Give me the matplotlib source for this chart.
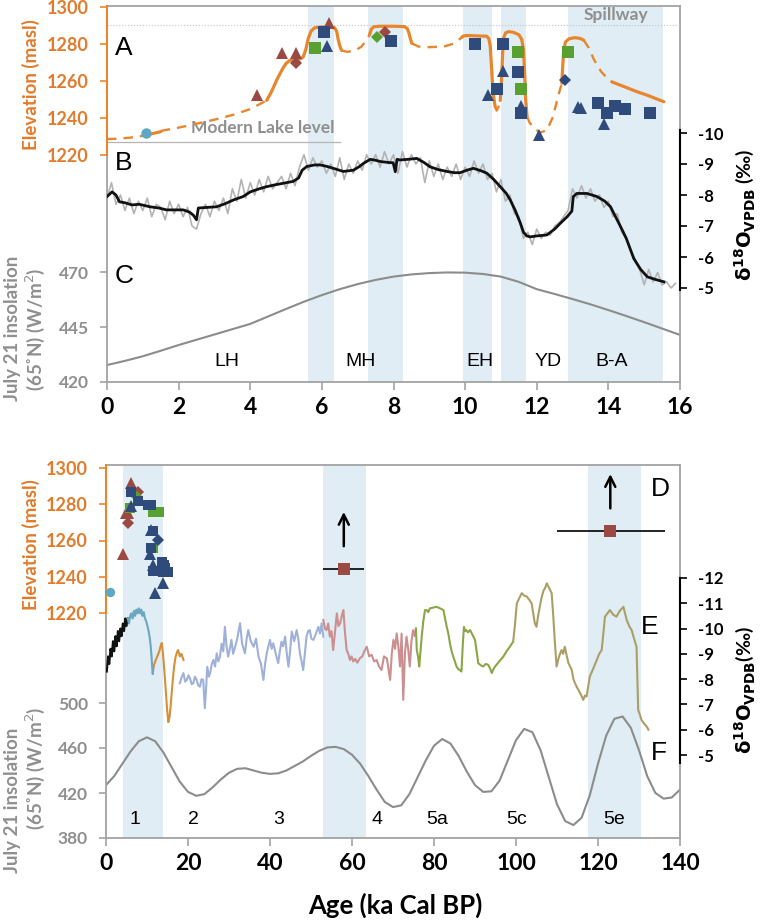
import numpy as np
import matplotlib
matplotlib.use("Agg")
import matplotlib.pyplot as plt

plt.rcParams['font.family'] = ['Lato', 'DejaVu Sans']
plt.rcParams['axes.unicode_minus'] = False
plt.rcParams['mathtext.fontset'] = 'dejavusans'

# ---------------- DATA ----------------
# Panel A / D : lake level markers (age ka, elevation masl)
brown_tri_age = [4.18, 4.88, 5.27, 6.20]
brown_tri_elev = [1252.4, 1275.3, 1275.3, 1291.5]
brown_dia_age = [5.27, 7.77]
brown_dia_elev = [1269.5, 1286.7]
green_sq_age = [5.81, 11.47, 11.56, 12.88]
green_sq_elev = [1277.7, 1275.9, 1255.7, 1275.9]
green_dia_age = [7.53]
green_dia_elev = [1284.0]
blue_sq_age = [6.07, 7.92, 10.28, 11.07, 11.47, 10.88, 11.56, 13.72, 13.95, 14.19, 14.47, 15.15]
blue_sq_elev = [1286.7, 1281.8, 1279.8, 1279.8, 1265.1, 1255.7, 1242.9, 1247.9, 1242.5, 1246.5, 1244.7, 1242.5]
blue_tri_age = [6.13, 11.07, 10.65, 11.56, 12.07, 13.16, 13.24, 13.88]
blue_tri_elev = [1278.9, 1265.6, 1252.4, 1246.5, 1230.8, 1246.1, 1245.5, 1236.8]
blue_dia_age = [12.79]
blue_dia_elev = [1260.5]
circle_age = [1.09]
circle_elev = [1231.7]

# lake level reconstruction: solid (well constrained) and dashed (inferred) pieces
lake_solid = [
    ([1.1, 1.3, 1.5], [1230.8, 1231.7, 1232.6]),
    ([4.46, 4.6, 4.75, 4.9, 5.0, 5.11, 5.25, 5.4, 5.48, 5.55, 5.62, 5.7, 5.8, 6.0, 6.2, 6.35, 6.41, 6.45, 6.5, 6.55],
     [1249.5, 1254.5, 1261, 1266.5, 1269.5, 1271.2, 1271.6, 1272, 1273, 1277, 1283, 1287, 1288.8, 1289.2, 1289.2, 1288.8, 1287, 1283, 1279, 1276.5]),
    ([7.33, 7.38, 7.45, 7.6, 8.0, 8.3, 8.38, 8.43, 8.47, 8.51],
     [1285, 1288, 1289.3, 1289.6, 1289.6, 1289.4, 1288.5, 1286, 1283, 1280.4]),
    ([9.9, 9.95, 10.05, 10.3, 10.6, 10.66, 10.7, 10.73, 10.76, 10.8, 10.84],
     [1283.5, 1284.3, 1284.6, 1284.4, 1284.2, 1283, 1279, 1270, 1260, 1251, 1246]),
    ([10.98, 11.02, 11.05, 11.08, 11.13, 11.22, 11.35, 11.5, 11.58, 11.63, 11.66, 11.69, 11.73],
     [1249.5, 1262, 1276, 1283.5, 1286, 1286.7, 1286.3, 1285, 1282.5, 1277, 1265, 1250, 1240.7]),
    ([12.7, 12.72, 12.75, 12.8, 12.9, 13.05, 13.2, 13.31],
     [1258.8, 1266, 1276, 1281, 1282.8, 1283.4, 1283.1, 1282.1]),
    ([14.1, 14.5, 14.8, 15.1, 15.55], [1259.5, 1256.5, 1254.2, 1252.2, 1248.8]),
]
lake_dashed = [
    ([0.0, 0.3, 0.6, 0.9, 1.1], [1228.6, 1228.8, 1229.3, 1230.0, 1230.8]),
    ([1.5, 2.0, 2.5, 3.0, 3.5, 4.0, 4.46], [1233.0, 1234.8, 1236.9, 1239.1, 1241.6, 1244.8, 1249.5]),
    ([6.55, 6.7, 6.9, 7.1, 7.25, 7.33], [1276.5, 1275.8, 1276.2, 1278.5, 1282.0, 1285.0]),
    ([8.51, 8.7, 9.0, 9.4, 9.7, 9.9], [1280.4, 1278.6, 1278.3, 1278.6, 1280.3, 1283.5]),
    ([10.84, 10.88, 10.93, 10.98], [1246.0, 1244.0, 1246.0, 1249.5]),
    ([11.73, 11.8, 11.95, 12.1, 12.28, 12.45, 12.6, 12.7], [1240.7, 1237.5, 1234.0, 1232.2, 1233.3, 1240.5, 1252.0, 1258.8]),
    ([13.31, 13.45, 13.6, 13.8, 14.0, 14.1], [1282.1, 1278.0, 1271.5, 1265.0, 1261.0, 1259.5]),
]
spillway_elev = 1290.3
modern_lake_elev = 1227.0

# Panel B : d18O raw (gray, 0.125 ka spacing) and smoothed (black)
b_raw_d18o = [-7.9, -8.4, -7.7, -8.0, -7.5, -7.9, -7.4, -7.8, -7.5, -7.9, -7.3, -7.7, -7.6, -7.2, -7.8, -7.4,
              -7.7, -7.3, -7.6, -7.0, -6.9, -7.4, -7.7, -7.3, -7.8, -7.5, -7.9, -7.4, -8.2, -7.8, -8.5, -7.9,
              -8.4, -8.0, -8.5, -8.1, -8.6, -8.2, -8.4, -8.6, -8.2, -8.7, -8.3, -8.9, -9.3, -8.8, -9.2, -8.9,
              -9.1, -8.7, -9.0, -8.6, -9.2, -8.5, -9.0, -8.7, -9.1, -8.8, -9.3, -9.0, -9.3, -8.9, -9.4, -9.0,
              -9.3, -8.7, -9.4, -8.9, -9.3, -9.0, -9.2, -8.4, -9.1, -8.6, -9.0, -8.5, -8.9, -8.6, -9.0, -8.5,
              -8.9, -8.6, -9.1, -8.7, -9.0, -8.5, -8.7, -8.1, -8.5, -7.8, -8.0, -7.4, -7.3, -6.6, -6.8, -6.4,
              -6.9, -6.6, -6.8, -6.7, -7.0, -7.1, -7.3, -7.5, -8.2, -7.9, -8.3, -7.9, -8.2, -7.8, -8.0, -7.6,
              -7.8, -7.3, -7.4, -6.8, -6.6, -6.2, -5.9, -5.6, -5.1, -5.6, -5.2, -5.5, -5.1, -5.2, -5.0, -5.15]
b_raw_step = 0.125
b_smooth = [(0.0, -7.95), (0.14, -8.1), (0.25, -8.0), (0.35, -7.78), (0.5, -7.75), (0.7, -7.68), (0.9, -7.7),
            (1.2, -7.62), (1.45, -7.58), (1.66, -7.52), (1.9, -7.52), (2.13, -7.52), (2.3, -7.45), (2.41, -7.35),
            (2.5, -7.2), (2.55, -7.58), (2.8, -7.6), (3.06, -7.62), (3.3, -7.72), (3.53, -7.84), (3.8, -7.95),
            (4.0, -8.1), (4.25, -8.2), (4.46, -8.27), (4.7, -8.33), (4.93, -8.38), (5.2, -8.44), (5.35, -8.55),
            (5.45, -8.8), (5.58, -8.92), (5.8, -8.97), (5.95, -8.97), (6.15, -8.92), (6.32, -8.86), (6.6, -8.76),
            (6.88, -8.8), (7.05, -8.92), (7.16, -9.02), (7.35, -9.15), (7.5, -9.12), (7.63, -9.08), (7.85, -9.05),
            (7.99, -9.04), (8.05, -8.75), (8.1, -9.15), (8.18, -9.13), (8.4, -9.15), (8.65, -9.18), (8.85, -9.05),
            (9.02, -8.91), (9.25, -8.82), (9.49, -8.76), (9.7, -8.72), (9.86, -8.72), (10.05, -8.8), (10.23, -8.86),
            (10.45, -8.78), (10.61, -8.7), (10.8, -8.5), (10.98, -8.27), (11.15, -8.05), (11.26, -7.84),
            (11.4, -7.5), (11.54, -7.1), (11.63, -6.8), (11.72, -6.68), (11.82, -6.65), (12.0, -6.68),
            (12.28, -6.71), (12.5, -6.9), (12.66, -7.09), (12.85, -7.3), (12.98, -7.48), (13.02, -7.95),
            (13.12, -8.05), (13.4, -8.05), (13.68, -7.95), (13.9, -7.8), (14.06, -7.62), (14.2, -7.3),
            (14.34, -6.98), (14.5, -6.6), (14.71, -5.95), (14.9, -5.6), (15.09, -5.36), (15.3, -5.28), (15.55, -5.2)]

# Panel C : July 21 insolation 65N, 0-16 ka (0.5 ka step)
c_ins_age = [0, 0.5, 1, 1.5, 2, 2.5, 3, 3.5, 4, 4.5, 5, 5.5, 6, 6.5, 7, 7.5, 8, 8.5, 9, 9.5, 10,
             10.5, 11, 11.5, 12, 12.5, 13, 13.5, 14, 14.5, 15, 15.5, 16]
c_ins = [427.7, 429.6, 431.7, 434.2, 436.8, 439.2, 441.6, 444.0, 446.4, 449.8, 453.2, 456.5, 459.5, 462.2,
         464.5, 466.4, 467.9, 468.9, 469.5, 469.8, 469.7, 469.1, 467.9, 465.5, 462.2, 460.0, 457.7, 455.3,
         452.7, 450.0, 447.2, 444.3, 441.4]

# Panel E : speleothem d18O records (age ka, d18O)
e_black = [(0.2, -8.3), (0.5, -8.9), (0.8, -8.6), (1.1, -9.2), (1.4, -8.9), (1.7, -9.5), (2.0, -9.1), (2.3, -9.7),
           (2.6, -9.3), (2.9, -9.9), (3.2, -9.5), (3.5, -10.0), (3.8, -9.7), (4.1, -10.2), (4.4, -9.9),
           (4.7, -10.4), (5.0, -10.1), (5.3, -10.4)]
e_teal = [(5.3, -10.4), (5.6, -10.2), (5.9, -10.5), (6.2, -10.6), (6.5, -10.4), (6.8, -10.7), (7.1, -10.5),
          (7.4, -10.75), (7.7, -10.6), (8.0, -10.8), (8.3, -10.6), (8.6, -10.75), (8.9, -10.5), (9.2, -10.65),
          (9.5, -10.4), (9.8, -10.3), (10.1, -10.1), (10.4, -9.9), (10.7, -9.6), (10.9, -9.3), (11.1, -8.9),
          (11.3, -8.4), (11.4, -8.2), (11.6, -8.5)]
e_orange = [(11.6, -8.5), (12.0, -8.7), (12.5, -8.9), (13.0, -9.1), (13.3, -9.3), (13.6, -9.43), (13.9, -9.0),
            (14.2, -8.4), (14.6, -7.5), (14.9, -6.8), (15.2, -6.3), (15.5, -6.5), (15.8, -7.0), (16.2, -7.8),
            (16.6, -8.5), (17.0, -8.9), (17.4, -9.1), (17.6, -9.15), (18.0, -8.9), (18.4, -9.0), (18.9, -8.76)]
e_lavender = [(18.0, -7.84), (18.5, -8.1), (18.9, -8.24), (19.3, -7.9), (19.7, -7.97), (20.1, -8.15), (20.5, -8.03),
              (20.9, -7.8), (21.3, -7.84), (21.7, -8.1), (22.1, -7.97), (22.5, -7.75), (22.9, -7.7), (23.3, -8.0),
              (23.7, -7.97), (24.1, -6.85), (24.4, -7.6), (24.7, -8.49), (25.1, -8.1), (25.4, -8.24), (25.8, -8.6),
              (26.2, -8.76), (26.6, -8.5), (27.0, -9.02), (27.4, -8.7), (27.8, -8.89), (28.2, -9.4), (28.6, -9.1),
              (29.0, -10.07), (29.4, -9.3), (29.8, -8.89), (30.2, -9.2), (30.6, -9.55), (31.0, -9.0), (31.5, -9.28),
              (32.0, -9.6), (32.7, -10.21), (33.2, -9.4), (33.9, -9.02), (34.3, -9.6), (34.7, -9.94), (35.3, -9.5),
              (36.0, -9.28), (36.6, -9.6), (37.2, -8.89), (37.8, -8.6), (38.4, -7.97), (38.8, -8.6), (39.2, -9.02),
              (39.6, -9.3), (40.0, -9.55), (40.4, -9.2), (40.8, -9.42), (41.4, -9.0), (42.0, -8.63), (42.4, -9.1),
              (42.8, -9.48), (43.2, -9.3), (43.7, -9.68), (44.1, -9.0), (44.5, -8.49), (44.9, -9.1), (45.3, -9.88),
              (45.9, -9.5), (46.5, -9.94), (46.9, -9.6), (47.3, -9.02), (47.7, -8.7), (48.1, -8.36), (48.5, -9.0),
              (48.9, -9.68), (49.3, -9.9), (49.7, -9.94), (50.1, -9.6), (50.6, -9.55), (51.2, -9.8), (51.8, -10.07),
              (52.2, -9.8), (52.6, -10.21), (53.0, -9.68)]
e_pink = [(53.0, -10.34), (53.4, -10.0), (53.8, -9.94), (54.2, -10.2), (54.6, -9.68), (55.0, -9.9), (55.4, -9.15),
          (55.9, -9.94), (56.3, -10.6), (56.7, -10.1), (57.1, -10.21), (57.5, -10.5), (57.9, -10.73), (58.3, -9.81),
          (58.7, -9.15), (59.1, -9.0), (59.5, -8.76), (59.9, -8.9), (60.3, -8.7), (60.8, -8.8), (61.3, -8.65),
          (61.9, -8.82), (62.5, -8.9), (63.0, -9.1), (63.6, -9.28), (64.2, -8.9), (64.8, -8.96), (65.4, -8.7),
          (66.0, -8.76), (66.6, -8.5), (67.2, -8.36), (67.8, -8.9), (68.5, -8.82), (68.9, -8.4), (69.3, -7.97),
          (69.7, -9.0), (70.1, -9.55), (70.5, -9.2), (70.9, -9.81), (71.3, -9.3), (71.7, -8.5), (72.1, -9.8),
          (72.5, -7.18), (72.9, -9.0), (73.3, -9.68), (73.7, -9.2), (74.1, -8.5), (74.5, -9.5), (74.9, -9.94),
          (75.3, -9.7), (75.6, -10.0)]
e_green = [(75.6, -10.0), (75.8, -9.15), (76.1, -8.9), (76.4, -8.5), (77.0, -9.68), (77.4, -10.3), (77.8, -10.73),
           (78.2, -10.73), (78.6, -10.65), (79.0, -10.8), (79.8, -10.83), (80.6, -10.86), (81.5, -10.8),
           (82.3, -10.73), (82.7, -10.4), (83.1, -10.07), (83.5, -9.8), (83.9, -9.41), (84.3, -9.1), (84.7, -8.89),
           (85.1, -8.7), (85.5, -8.5), (85.9, -8.4), (86.3, -8.36), (86.7, -8.3), (87.0, -9.3), (87.3, -10.07),
           (87.6, -9.9), (87.9, -9.94), (88.3, -9.85), (88.8, -9.94), (89.4, -9.75), (90.0, -9.55), (90.4, -9.1),
           (90.8, -8.63), (91.4, -8.55), (92.0, -8.5), (92.6, -8.6), (93.2, -8.57), (93.6, -8.45), (94.1, -8.24),
           (94.5, -8.4), (94.9, -8.5), (95.9, -8.7), (96.9, -8.89), (97.7, -9.1), (98.5, -9.28), (99.3, -9.48)]
e_khaki = [(99.3, -9.48), (99.7, -10.07), (100.2, -11.0), (100.8, -11.2), (101.4, -11.4), (102.0, -11.3),
           (102.6, -11.27), (103.2, -11.15), (103.8, -11.0), (104.2, -10.6), (104.6, -10.2), (105.0, -10.07),
           (105.4, -10.5), (105.8, -10.86), (106.2, -11.2), (106.7, -11.5), (107.1, -11.6), (107.5, -11.79),
           (108.1, -11.6), (108.7, -11.4), (109.1, -10.47), (109.5, -9.4), (109.9, -8.5), (110.5, -8.9),
           (111.1, -9.15), (111.5, -9.0), (111.9, -9.28), (112.4, -8.9), (112.8, -8.63), (113.2, -8.5),
           (113.6, -8.36), (114.0, -8.0), (114.4, -7.84), (114.8, -7.7), (115.2, -7.58), (115.8, -7.4),
           (116.4, -7.18), (116.8, -7.35), (117.2, -7.31), (117.6, -7.7), (118.0, -8.1), (118.8, -8.4),
           (119.7, -8.76), (120.3, -9.0), (120.9, -9.15), (121.3, -9.8), (121.7, -10.47), (122.3, -10.6),
           (122.9, -10.73), (123.7, -10.55), (124.5, -10.47), (125.3, -10.7), (126.2, -10.86), (126.6, -10.6),
           (127.0, -10.34), (127.6, -10.1), (128.2, -9.94), (128.8, -9.6), (129.4, -9.28), (129.6, -8.0),
           (129.8, -6.78), (130.2, -6.6), (130.6, -6.39), (131.2, -6.25), (131.9, -6.12), (132.3, -6.0)]

# Panel D : older highstands (age, elevation, age error bar min/max)
old_age = [58.0, 123.0]
old_elev = [1244.3, 1265.2]
old_err_lo = [53.0, 110.0]
old_err_hi = [63.0, 136.3]

# Panel F : July 21 insolation 65N, 0-140 ka (2 ka step)
f_ins_age = list(range(0, 141, 2))
f_ins = [427, 435, 446, 457, 466, 469.5, 466, 456, 443, 430, 421, 417.5, 419, 425, 432, 438, 441.5, 442,
         440, 438, 437, 437.5, 440, 444, 448, 453, 457.5, 460.5, 461, 459, 454, 446, 435, 423, 412, 407.5,
         409, 419, 434, 449, 462, 468, 464, 453, 439, 427, 421, 421.5, 431, 449, 467, 477, 474, 458, 434,
         410, 395, 391.5, 398, 418, 446, 471, 486, 488, 478, 458, 435, 420, 415, 416, 423]

bands_top = [(5.6, 6.35), (7.3, 8.27), (9.95, 10.75), (11.0, 11.7), (12.87, 15.53)]
bands_bot = [(4.15, 13.9), (53.0, 63.4), (117.6, 130.5)]
periods_top = [("LH", 3.35), ("MH", 7.07), ("EH", 10.4), ("YD", 12.33), ("B-A", 14.1)]
periods_bot = [("1", 7), ("2", 21.3), ("3", 42), ("4", 66), ("5a", 80.7), ("5c", 100.2), ("5e", 124)]

# ---------------- STYLE ----------------
W, H = 762, 924
ORANGE = '#e8862d'
ORANGE_TXT = '#e27b2b'
GRAY = '#a3a3a3'
GRAY_TXT = '#8f8f8f'
BAND = '#e0edf5'
BROWN = '#9b4a43'
GREEN = '#58a030'
BLUE = '#2f4b7c'
LBLUE = '#5fa6c4'
INS_COL = '#8c8c8c'

fig = plt.figure(figsize=(W / 100, H / 100), dpi=100)


def lin(v1, p1, v2, p2):
    return lambda p: v1 + (p - p1) * (v2 - v1) / (p2 - p1)


def pix_of(vmap, v, y0, y1):
    a = vmap(y0)
    b = vmap(y1)
    return y0 + (v - a) * (y1 - y0) / (b - a)


def panel(x0, y0, x1, y1, xmax, xticks, emap, imap, dmap, iticks, dticks, dbounds):
    rect = [x0 / W, 1 - y1 / H, (x1 - x0) / W, (y1 - y0) / H]
    ax = fig.add_axes(rect, zorder=1)
    axd = fig.add_axes(rect, zorder=2, facecolor='none')
    axe = fig.add_axes(rect, zorder=3, facecolor='none')
    for a in (ax, axd, axe):
        a.set_xlim(0, xmax)
    ax.set_ylim(imap(y1), imap(y0))
    axd.set_ylim(dmap(y1), dmap(y0))
    axe.set_ylim(emap(y1), emap(y0))
    for s in ax.spines.values():
        s.set_color(GRAY)
        s.set_linewidth(1.3)
    ax.spines['left'].set_bounds(imap(y1), imap(pix_of(emap, 1220, y0, y1)))
    ax.set_xticks(xticks, [str(t) for t in xticks], fontweight='bold')
    ax.tick_params(axis='x', direction='out', length=6, width=1.2, color=GRAY, labelsize=16.5, pad=5,
                   labelcolor='black')
    ax.set_yticks(iticks, [str(t) for t in iticks], fontweight='bold')
    ax.tick_params(axis='y', direction='out', length=5, width=1.2, color=GRAY, labelsize=12.5,
                   labelcolor=GRAY_TXT, pad=8)
    for k, s in axd.spines.items():
        s.set_visible(k == 'right')
    axd.spines['right'].set_color('black')
    axd.spines['right'].set_linewidth(1.5)
    axd.spines['right'].set_bounds(*dbounds)
    axd.yaxis.set_ticks_position('right')
    axd.set_yticks(dticks, [str(t) for t in dticks], fontweight='bold')
    axd.tick_params(axis='y', direction='out', length=5, width=1.2, color='black', labelsize=12, pad=8)
    axd.tick_params(axis='x', bottom=False, labelbottom=False)
    for k, s in axe.spines.items():
        s.set_visible(k == 'left')
    axe.spines['left'].set_color(ORANGE)
    axe.spines['left'].set_linewidth(1.5)
    axe.spines['left'].set_bounds(1220, emap(y0))
    et = [1220, 1240, 1260, 1280, 1300]
    axe.set_yticks(et, [str(t) for t in et], fontweight='bold')
    axe.tick_params(axis='y', direction='out', length=5, width=1.2, color=ORANGE, labelsize=13,
                    labelcolor=ORANGE_TXT, pad=8)
    axe.tick_params(axis='x', bottom=False, labelbottom=False)
    return ax, axd, axe


def draw_markers(axe, scale):
    kw = dict(linestyle='none', markeredgewidth=0, zorder=5)
    axe.plot(circle_age, circle_elev, 'o', color=LBLUE, ms=7.5 * scale, **kw)
    axe.plot(brown_tri_age, brown_tri_elev, '^', color=BROWN, ms=9 * scale, **kw)
    axe.plot(brown_dia_age, brown_dia_elev, 'D', color=BROWN, ms=6.5 * scale, **kw)
    axe.plot(green_dia_age, green_dia_elev, 'D', color=GREEN, ms=6.5 * scale, **kw)
    axe.plot(green_sq_age, green_sq_elev, 's', color=GREEN, ms=8 * scale, **kw)
    axe.plot(blue_sq_age, blue_sq_elev, 's', color=BLUE, ms=8 * scale, **kw)
    axe.plot(blue_tri_age, blue_tri_elev, '^', color=BLUE, ms=9 * scale, **kw)
    axe.plot(blue_dia_age, blue_dia_elev, 'D', color=BLUE, ms=6.5 * scale, **kw)


# ---------------- TOP PANEL (A-C) ----------------
emapT = lin(1300, 7, 1220, 155)
imapT = lin(470, 272, 420, 382)
dmapT = lin(-10, 133, -5, 288)
axT, axTd, axTe = panel(107, 6, 680, 382, 16, list(range(0, 17, 2)), emapT, imapT, dmapT,
                        [420, 445, 470], [-10, -9, -8, -7, -6, -5], (-10.1, -4.95))
for a, b in bands_top:
    axT.axvspan(a, b, color=BAND, lw=0, zorder=0)
axT.plot(c_ins_age, c_ins, color=INS_COL, lw=1.5, zorder=2)
for lab, x in periods_top:
    axT.text(x, 429.5, lab, ha='center', va='center', fontsize=14, family='Liberation Sans')
axT.text(0.22, 468.2, 'C', ha='left', va='center', fontsize=19, family='Liberation Sans')

raw_age = np.arange(len(b_raw_d18o)) * b_raw_step
axTd.plot(raw_age, b_raw_d18o, color='#b3b3b3', lw=1.2, zorder=2)
bs = np.array(b_smooth)
axTd.plot(bs[:, 0], bs[:, 1], color='#111111', lw=2.0, zorder=3)

axTe.axhline(spillway_elev, color='#c4c4c4', lw=0.8, ls=':', zorder=1)
axTe.plot([0, 6.5], [modern_lake_elev, modern_lake_elev], color='#b5b5b5', lw=0.9, zorder=1)
axTe.text(4.35, 1234.6, 'Modern Lake level', ha='center', va='center', fontsize=12.5, fontweight='bold',
          color=GRAY_TXT)
axTe.text(14.2, 1295.7, 'Spillway', ha='center', va='center', fontsize=12.5, fontweight='bold', color=GRAY_TXT)
for xs, ys in lake_dashed:
    axTe.plot(xs, ys, color=ORANGE, lw=1.7, ls=(0, (4, 3)), zorder=3)
for xs, ys in lake_solid:
    axTe.plot(xs, ys, color=ORANGE, lw=2.3, solid_capstyle='round', zorder=3)
draw_markers(axTe, 1.0)
axTe.text(0.22, 1278.1, 'A', ha='left', va='center', fontsize=19, family='Liberation Sans')
axTe.text(0.22, 1215.7, 'B', ha='left', va='center', fontsize=19, family='Liberation Sans')

# ---------------- BOTTOM PANEL (D-F) ----------------
emapB = lin(1300, 468, 1220, 613)
imapB = lin(500, 703, 380, 838)
dmapB = lin(-12, 578, -5, 755)
axB, axBd, axBe = panel(106, 465, 680, 838, 140, list(range(0, 141, 20)), emapB, imapB, dmapB,
                        [380, 420, 460, 500], [-12, -11, -10, -9, -8, -7, -6, -5], (-12.0, -4.7))
for a, b in bands_bot:
    axB.axvspan(a, b, color=BAND, lw=0, zorder=0)
axB.plot(f_ins_age, f_ins, color=INS_COL, lw=1.5, zorder=2)
for lab, x in periods_bot:
    axB.text(x, 396, lab, ha='center', va='center', fontsize=14, family='Liberation Sans')

for seg, col in [(e_black, '#111111'), (e_teal, '#6aa8c0'), (e_orange, '#d88f3a'), (e_lavender, '#9fb1d8'),
                 (e_pink, '#cc8f8f'), (e_green, '#8ba646'), (e_khaki, '#ab9f66')]:
    s = np.array(seg)
    axBd.plot(s[:, 0], s[:, 1], color=col, lw=1.5, zorder=3)

draw_markers(axBe, 0.9)
axBe.errorbar(old_age, old_elev, xerr=[np.subtract(old_age, old_err_lo), np.subtract(old_err_hi, old_age)],
              fmt='s', color=BROWN, ms=8.5, mew=0, ecolor='black', elinewidth=1.2, capsize=0, zorder=5)
for x, y in zip(old_age, old_elev):
    axBe.annotate('', xy=(x, y + 33), xytext=(x, y + 11),
                  arrowprops=dict(arrowstyle='->', color='black', lw=1.8, mutation_scale=18))

for lab, fx, fy in [('D', 0.983, 0.936), ('E', 0.962, 0.566), ('F', 0.977, 0.228)]:
    axBe.text(fx, fy, lab, transform=axBe.transAxes, ha='right', va='center', fontsize=19,
              family='Liberation Sans')


# ---------------- AXIS LABELS ----------------
def ftext(x, y, s, **kw):
    fig.text(x / W, 1 - y / H, s, **kw)


ftext(31, 85, 'Elevation (masl)', rotation=90, ha='center', va='center', fontsize=13.5,
      fontweight='bold', color=ORANGE_TXT)
ftext(31, 545, 'Elevation (masl)', rotation=90, ha='center', va='center', fontsize=13.5,
      fontweight='bold', color=ORANGE_TXT)
ftext(13, 328, 'July 21 insolation', rotation=90, ha='center', va='center', fontsize=13.5,
      fontweight='bold', color=GRAY_TXT)
ftext(35, 329, '(65˚N) (W/m$^{2}$)', rotation=90, ha='center', va='center', fontsize=13.5,
      fontweight='bold', color=GRAY_TXT)
ftext(13, 800, 'July 21 insolation', rotation=90, ha='center', va='center', fontsize=13.5,
      fontweight='bold', color=GRAY_TXT)
ftext(35, 768, '(65˚N) (W/m$^{2}$)', rotation=90, ha='center', va='center', fontsize=13.5,
      fontweight='bold', color=GRAY_TXT)
ftext(745, 215, r'$\mathbf{\delta^{18}O_{VPDB}}$ (‰)', rotation=90, ha='center', va='center',
      fontsize=14, fontweight='bold')
ftext(745, 690, r'$\mathbf{\delta^{18}O_{VPDB}}$(‰)', rotation=90, ha='center', va='center',
      fontsize=14, fontweight='bold')
ftext(395, 905, 'Age (ka Cal BP)', ha='center', va='center', fontsize=18.5, fontweight='bold')

fig.savefig('out.png', dpi=100)
